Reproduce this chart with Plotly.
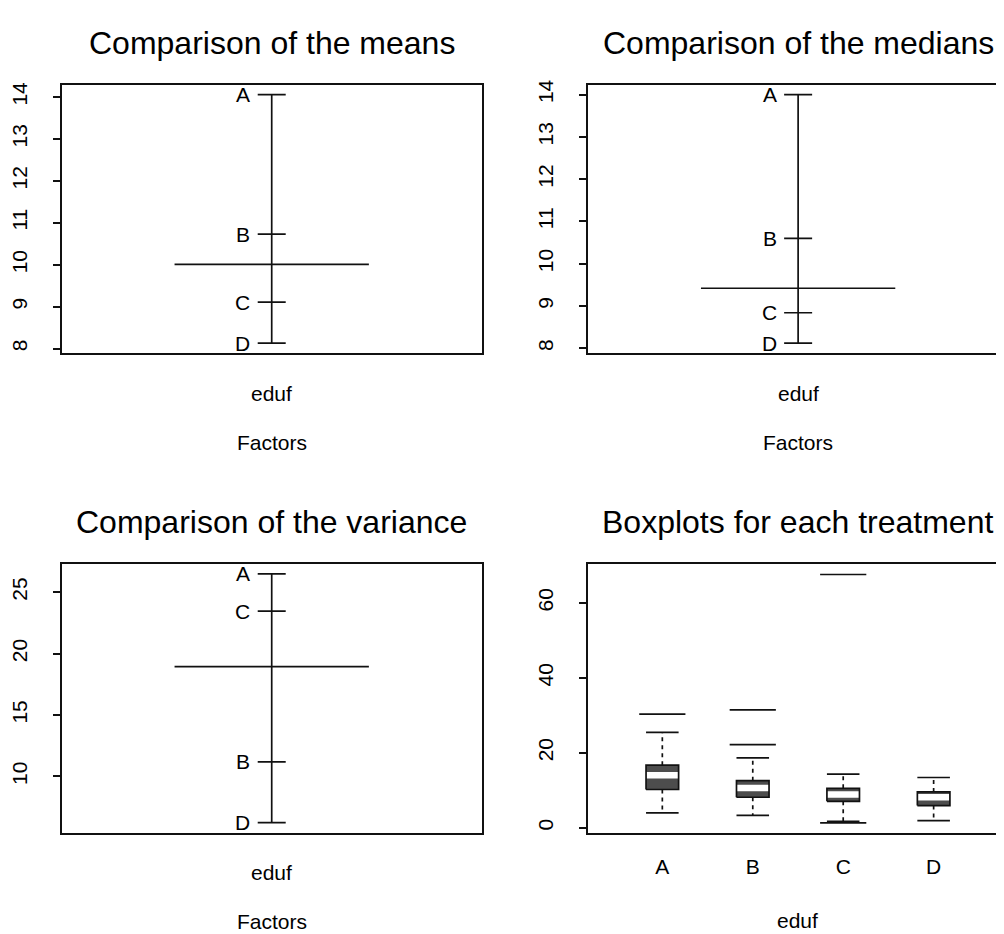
import plotly.graph_objects as go

# ---------------- data ----------------
levels = ["A", "B", "C", "D"]
factor_name = "eduf"

means = [14.06, 10.73, 9.11, 8.13]
grand_mean = 10.01

medians = [14.0, 10.6, 8.84, 8.12]
grand_median = 9.42

variances = [26.49, 11.19, 23.46, 6.24]
grand_variance = 18.95

box_q1 = [10.2, 8.12, 7.05, 5.9]
box_median = [14.0, 10.6, 8.84, 8.12]
box_q3 = [16.7, 12.54, 10.5, 9.54]
box_lower = [3.98, 3.26, 1.7, 1.86]
box_upper = [25.45, 18.64, 14.3, 13.4]
box_outliers = [[30.3], [22.17, 31.45], [67.6, 1.3], []]

titles = ["Comparison of the means", "Comparison of the medians",
          "Comparison of the variance", "Boxplots for each treatment"]

# ---------------- layout geometry ----------------
W, H = 1004, 934          # window size
OFF = 8                   # default body margin of the page
FW, FH = W - OFF, H - OFF # figure size so it ends at the window edge
FONT = "Liberation Sans, Arial, Helvetica, sans-serif"
LC = "#111111"
LW = 1.7


def ext(lo, hi, f=0.04):
    d = (hi - lo) * f
    return [lo - d, hi + d]


def fx(px):
    return (px - OFF) / FW


def fy(py):
    return (H - py) / FH


left_x = [fx(59), fx(480)]
right_x = [fx(587), 1.0]
top_y = [fy(350), fy(80)]
bot_y = [fy(832), fy(562)]

fig = go.Figure()
annotations = []

design_panels = [
    (means, grand_mean, "x", "y"),
    (medians, grand_median, "x2", "y2"),
    (variances, grand_variance, "x3", "y3"),
]

for vals, g, xr, yr in design_panels:
    lo, hi = min(vals), max(vals)
    fig.add_trace(go.Scatter(x=[1, 1], y=[lo, hi], mode="lines",
                             line=dict(color=LC, width=LW), xaxis=xr, yaxis=yr,
                             hoverinfo="skip"))
    fig.add_trace(go.Scatter(x=[0.75, 1.25], y=[g, g], mode="lines",
                             line=dict(color=LC, width=LW), xaxis=xr, yaxis=yr,
                             hoverinfo="skip"))
    fig.add_trace(go.Scatter(x=[1] * len(vals), y=vals, mode="markers",
                             marker=dict(symbol="line-ew", size=20,
                                         line=dict(color=LC, width=LW)),
                             xaxis=xr, yaxis=yr, hoverinfo="skip"))
    for lv, v in zip(levels, vals):
        annotations.append(dict(x=0.95, y=v, xref=xr, yref=yr, text=lv,
                                showarrow=False, xanchor="right", yanchor="middle",
                                font=dict(size=21, color="black", family=FONT)))
    annotations.append(dict(x=1, y=0, xref=xr, yref=yr + " domain", text=factor_name,
                            showarrow=False, yshift=-40, yanchor="middle",
                            font=dict(size=21, color="black", family=FONT)))
    annotations.append(dict(x=1, y=0, xref=xr, yref=yr + " domain", text="Factors",
                            showarrow=False, yshift=-89, yanchor="middle",
                            font=dict(size=21, color="black", family=FONT)))

# ---------------- boxplots ----------------
h = 0.18
for i, lv in enumerate(levels):
    c = i + 1
    fig.add_trace(go.Scatter(x=[c - h, c + h, c + h, c - h, c - h],
                             y=[box_q1[i], box_q1[i], box_q3[i], box_q3[i], box_q1[i]],
                             mode="lines", fill="toself", fillcolor="#4d4d4d",
                             line=dict(width=0), xaxis="x4", yaxis="y4", hoverinfo="skip"))
    fig.add_trace(go.Scatter(x=[c - h, c + h], y=[box_median[i]] * 2, mode="lines",
                             line=dict(color="white", width=6.5), xaxis="x4", yaxis="y4",
                             hoverinfo="skip"))
    fig.add_trace(go.Scatter(x=[c - h, c + h, c + h, c - h, c - h],
                             y=[box_q1[i], box_q1[i], box_q3[i], box_q3[i], box_q1[i]],
                             mode="lines", line=dict(color=LC, width=LW),
                             xaxis="x4", yaxis="y4", hoverinfo="skip"))
    fig.add_trace(go.Scatter(x=[c, c, None, c, c],
                             y=[box_q3[i], box_upper[i], None, box_q1[i], box_lower[i]],
                             mode="lines", line=dict(color=LC, width=LW, dash="4px,4px"),
                             xaxis="x4", yaxis="y4", hoverinfo="skip"))
    fig.add_trace(go.Scatter(x=[c - h, c + h, None, c - h, c + h],
                             y=[box_upper[i], box_upper[i], None, box_lower[i], box_lower[i]],
                             mode="lines", line=dict(color=LC, width=LW),
                             xaxis="x4", yaxis="y4", hoverinfo="skip"))
    if box_outliers[i]:
        fig.add_trace(go.Scatter(x=[c] * len(box_outliers[i]), y=box_outliers[i],
                                 mode="markers",
                                 marker=dict(symbol="line-ew", size=33,
                                             line=dict(color=LC, width=LW)),
                                 xaxis="x4", yaxis="y4", hoverinfo="skip"))

annotations.append(dict(x=2.5, y=0, xref="x4", yref="y4 domain", text=factor_name,
                        showarrow=False, yshift=-88, yanchor="middle",
                        font=dict(size=21, color="black", family=FONT)))

title_refs = [("x", "y", 1.0), ("x2", "y2", 1.0), ("x3", "y3", 1.0), ("x4", "y4", 2.5)]
for t, (xr, yr, cx) in zip(titles, title_refs):
    annotations.append(dict(x=cx, y=1, xref=xr, yref=yr + " domain", text=t,
                            showarrow=False, yshift=42, yanchor="middle",
                            font=dict(size=32, color="black", family=FONT)))

# ---------------- axes ----------------
design_xrange = [0.46, 1.54]
right_xrange = [0.46, 0.46 + 1.08 * (417 / 421)]
box_xrange = [0.181, 4.778]

common_x = dict(showline=True, mirror=True, linecolor=LC, linewidth=LW,
                showgrid=False, zeroline=False, fixedrange=True)
common_y = dict(showline=True, linecolor=LC, linewidth=LW, showgrid=False,
                zeroline=False, ticks="outside", ticklen=7, tickwidth=LW,
                tickcolor=LC, tickangle=-90, ticklabelstandoff=18,
                tickfont=dict(size=21, color="black", family=FONT))

fig.update_layout(
    width=FW, height=FH,
    margin=dict(l=0, r=0, t=0, b=0),
    paper_bgcolor="white", plot_bgcolor="white",
    showlegend=False,
    font=dict(family=FONT, color="black"),
    xaxis=dict(domain=left_x, range=design_xrange, showticklabels=False, ticks="",
               anchor="y", **common_x),
    yaxis=dict(domain=top_y, range=ext(min(means), max(means)), dtick=1, mirror=True,
               anchor="x", **common_y),
    xaxis2=dict(domain=right_x, range=right_xrange, showticklabels=False, ticks="",
                anchor="y2", **common_x),
    yaxis2=dict(domain=top_y, range=ext(min(medians), max(medians)), dtick=1,
                anchor="x2", **common_y),
    xaxis3=dict(domain=left_x, range=design_xrange, showticklabels=False, ticks="",
                anchor="y3", **common_x),
    yaxis3=dict(domain=bot_y, range=ext(min(variances), max(variances)), dtick=5,
                mirror=True, anchor="x3", **common_y),
    xaxis4=dict(domain=right_x, range=box_xrange, tickvals=[1, 2, 3, 4],
                ticktext=levels, ticks="", ticklabelstandoff=14,
                tickfont=dict(size=21, color="black", family=FONT),
                anchor="y4", **common_x),
    yaxis4=dict(domain=bot_y, range=[-1.3, 70.4], tickvals=[0, 20, 40, 60],
                anchor="x4", **common_y),
    annotations=annotations,
)

fig.write_html("out.html")
